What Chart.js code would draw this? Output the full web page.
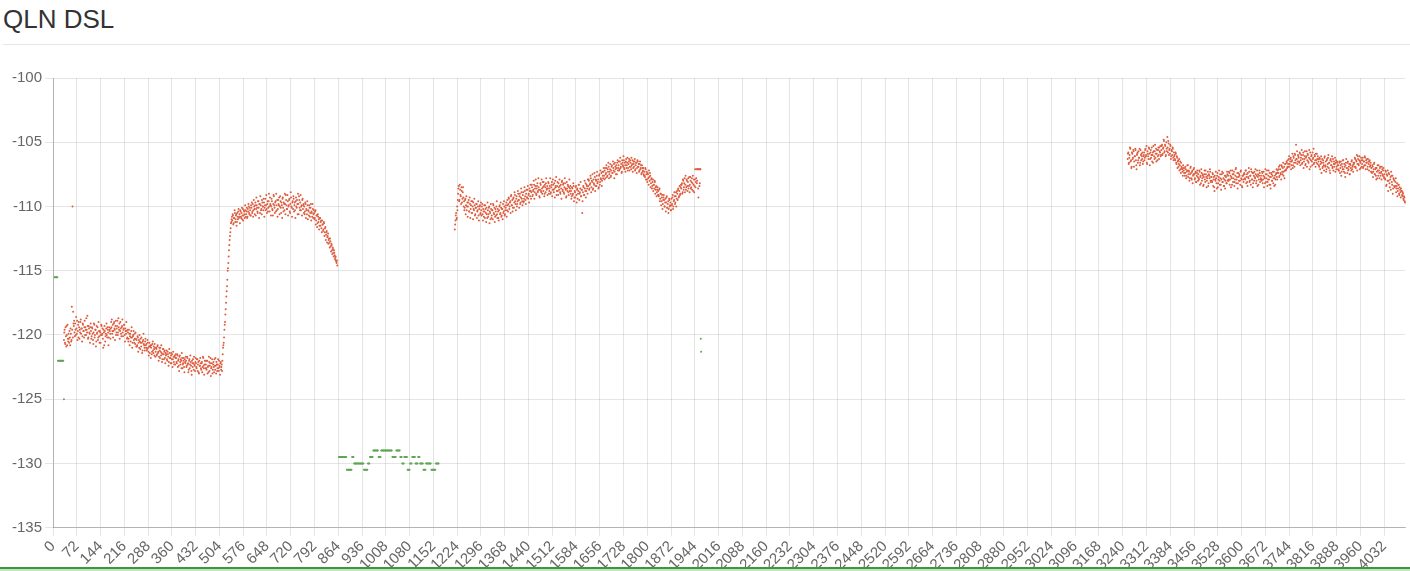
<!DOCTYPE html>
<html><head><meta charset="utf-8">
<script src="https://cdn.jsdelivr.net/npm/chart.js@4.4.0/dist/chart.umd.min.js"></script>
<style>
html,body{margin:0;padding:0;background:#fff;width:1410px;height:571px;overflow:hidden;font-family:"Liberation Sans",Arial,sans-serif;}
#title{position:absolute;left:3px;top:4px;font-size:26px;color:#333;line-height:30px;white-space:nowrap;}
#rule{position:absolute;left:3px;right:0;top:44px;height:1px;background:#e5e5e5;}
#wrap{position:absolute;left:0;top:48px;width:1410px;height:528px;}
#foot{position:absolute;left:0;top:567px;width:1410px;height:2px;background:#3a9a3a;}
#foot2{position:absolute;left:0;top:569px;width:1410px;height:2px;background:#c3e3c3;}
</style></head>
<body>
<div id="title">QLN DSL</div>
<div id="rule"></div>
<div id="wrap"><canvas id="c"></canvas></div>
<div id="foot"></div><div id="foot2"></div>
<script>
// Tone count (category labels 0..4095)
const toneCount = 4096;
const tickEvery = 72;
const yMin = -135, yMax = -100, yStep = 5;
const segStep = 2;

// Red series (QLN), segment 1, odd tones from 33
const redSeg1Start = 33;
const redSeg1 = [
-120.4,-119.6,-120.7,-120.1,-119.3,-120.8,-120.3,-119.9,-120.6,-120.2,-119.5,-120.5,
-117.8,-110.0,-118.2,
-119.3,-119.8,-119.1,-120.0,-119.5,-118.9,-119.7,-120.2,-119.4,-119.6,-119.0,-119.9,-119.5,-120.1,-119.2,-119.7,-119.4,-120.0,-119.6,-118.7,-119.8,-119.3,-120.2,-119.5,-119.9,-119.4,
-119.7,-120.1,-119.5,-120.4,-119.8,-119.2,-120.0,-119.6,-120.5,-119.9,-119.4,-120.2,-119.7,-120.6,-119.8,-120.0,-119.3,-119.9,-120.3,-119.6,-120.8,-119.7,-120.1,-119.5,-120.0,-119.4,-119.8,-120.2,-119.6,-119.9,-119.5,
-119.4,-119.9,-119.2,-119.7,-119.0,-119.6,-119.3,-120.0,-119.5,-118.9,-119.8,-119.4,-119.1,-119.7,-119.5,-120.1,-119.3,-119.8,-119.6,-119.2,-120.0,-119.5,-119.9,-119.7,-120.2,
-119.8,-120.3,-119.9,-120.1,-120.5,-119.7,-120.2,-120.6,-120.0,-120.4,-119.9,-120.7,-120.3,
-120.4,-120.8,-120.2,-120.6,-121.0,-120.5,-120.3,-120.9,-120.6,-121.2,-120.4,-120.7,-121.0,-120.5,-120.8,
-120.7,-121.1,-120.6,-121.3,-120.9,-121.4,-120.8,-121.0,-121.5,-120.7,-121.2,-120.9,-121.6,-121.0,-121.3,
-121.1,-121.5,-120.8,-121.3,-121.7,-121.2,-121.0,-121.6,-121.4,-121.9,-121.1,-121.5,-121.3,-121.8,-121.4,
-121.5,-121.9,-121.3,-121.7,-122.1,-121.4,-121.8,-121.6,-122.2,-121.5,-121.9,-121.7,-122.3,-121.6,-121.8,
-121.8,-122.2,-121.6,-122.0,-122.4,-121.7,-122.1,-121.9,-122.6,-121.8,-122.3,-122.0,-122.5,-121.9,-122.2,
-122.0,-122.4,-121.8,-122.2,-122.7,-121.9,-122.3,-122.1,-122.8,-122.0,-122.5,-122.2,-121.7,-122.4,-122.1,
-122.2,-122.6,-121.9,-122.3,-122.9,-122.0,-122.4,-122.2,-122.7,-122.1,-122.5,-121.8,-122.6,-122.3,-122.0,
-122.3,-122.7,-122.0,-122.5,-122.9,-122.1,-122.4,-121.8,-122.6,-122.2,-123.0,-122.3,-122.5,-121.9,-122.7,-122.4,-122.1,-122.8,-122.3,-122.6,-122.0,-122.5,-122.2,-122.7,-122.3,
-122.0,-121.0,-120.6,-119.6,-119.0,-118.0,-117.0,-116.2,-115.0,-114.4,-113.4,-112.6,-112.0,-111.3,-111.0,
-111.1,-110.7,-111.3,-110.9,-110.5,-111.0,-110.6,-111.2,-110.8,-110.4,-110.9,-110.6,-110.3,-110.8,-110.5,-111.0,-110.2,-110.7,-110.4,-110.9,-110.3,-110.6,-110.1,-110.8,-110.4,-110.0,-110.6,-110.3,-110.7,
-110.1,-110.5,-109.8,-110.3,-110.0,-110.6,-109.7,-110.2,-109.9,-110.4,-109.6,-110.1,-109.8,-110.5,-109.9,-110.2,-109.5,-110.0,-110.3,-109.7,-110.1,-109.4,-109.9,-110.2,-109.8,-110.4,-109.6,-110.0,-109.3,-109.9,
-110.0,-109.6,-110.3,-109.8,-109.2,-110.1,-109.7,-110.4,-109.9,-109.5,-110.2,-109.8,-109.3,-110.0,-109.6,-110.5,-109.9,-109.4,-110.1,-109.7,-110.3,-109.8,-109.1,-109.9,-110.2,-109.6,-110.0,-109.5,-110.4,-109.8,-109.3,-110.1,-109.7,-110.2,-109.4,-109.9,-110.3,-109.6,-110.0,-109.5,-110.6,-109.8,-109.2,-110.1,-109.7,-110.3,-109.9,-109.5,-110.2,-109.8,
-110.0,-110.4,-109.8,-110.2,-110.6,-109.9,-110.3,-110.7,-110.1,-110.5,-109.8,-110.4,-110.8,-110.2,-110.6,
-110.5,-110.9,-110.3,-111.1,-110.7,-111.3,-110.8,-111.0,-111.5,-110.9,-111.2,-111.7,-111.1,
-111.4,-111.8,-111.3,-112.0,-111.6,-112.2,-111.9,-112.4,-112.1,-112.6,
-112.8,-112.5,-113.1,-112.9,-113.4,-113.2,-113.6,-113.4,
-113.8,-114.0,-114.2,-114.4,-114.6
];
// Red series, segment 1, even tones from 34
const redSeg1bStart = 34;
const redSeg1b = [
-119.8,-120.6,-119.4,-120.9,-120.0,-119.2,-120.5,-120.3,-119.7,-120.8,-119.9,-120.4,
-119.6,-120.2,-119.1,
-118.9,-120.1,-119.6,-118.6,-119.9,-120.4,-119.2,-119.0,-120.3,-119.8,-118.8,-119.5,-120.5,-119.1,-119.7,-120.2,-118.9,-119.4,-120.0,-119.6,-118.5,-120.3,-119.3,-119.8,-120.6,-119.1,
-120.3,-119.4,-119.9,-120.7,-119.1,-120.2,-119.6,-120.9,-119.3,-119.8,-120.4,-119.0,-120.1,-119.7,-120.6,-119.2,-120.0,-119.5,-121.0,-119.8,-119.3,-120.5,-119.9,-119.1,-120.2,-119.6,-120.8,-119.4,-119.7,-120.3,-119.0,
-118.8,-119.7,-120.2,-119.1,-119.5,-120.4,-118.9,-119.8,-119.3,-120.0,-118.7,-119.6,-120.3,-119.0,-119.9,-119.4,-118.8,-120.1,-119.5,-119.2,-120.5,-119.7,-119.0,-120.3,-119.6,
-120.5,-119.6,-120.8,-119.9,-120.2,-119.4,-121.0,-120.1,-119.7,-120.6,-120.3,-119.8,-120.9,
-120.9,-120.1,-121.3,-120.4,-120.0,-121.1,-120.6,-120.2,-121.4,-120.5,-119.9,-120.8,-121.2,-120.3,-121.0,
-121.2,-120.4,-121.0,-121.6,-120.6,-120.9,-121.8,-120.8,-121.3,-120.5,-121.4,-121.1,-120.7,-121.7,-121.0,
-121.6,-120.9,-121.4,-122.0,-121.0,-121.8,-121.3,-120.8,-122.1,-121.5,-121.1,-121.9,-121.2,-122.2,-121.6,
-121.2,-122.0,-121.5,-122.4,-121.1,-121.8,-122.2,-121.4,-121.9,-122.5,-121.3,-122.1,-121.7,-122.3,-121.5,
-122.1,-121.5,-122.5,-121.9,-122.8,-121.6,-122.3,-122.0,-121.4,-122.6,-122.2,-121.8,-122.9,-122.1,-121.7,
-122.5,-121.7,-122.3,-122.9,-122.0,-122.6,-121.6,-122.4,-123.1,-122.2,-121.9,-122.7,-122.3,-122.8,-121.8,
-122.5,-121.9,-122.8,-122.1,-123.0,-122.4,-121.8,-122.6,-122.2,-122.9,-121.7,-122.4,-123.1,-122.0,-122.6,
-122.6,-122.0,-123.0,-122.4,-121.7,-122.8,-122.2,-123.2,-122.5,-121.9,-122.7,-122.1,-122.9,-122.4,-121.8,-123.0,-122.3,-122.6,-121.9,-122.8,-122.4,-123.1,-122.1,-122.5,-122.8,
-121.5,-120.8,-120.2,-119.2,-118.4,-117.5,-116.6,-115.7,-114.8,-113.9,-113.0,-112.3,-111.7,-111.2,-110.8,
-110.6,-111.4,-110.9,-110.3,-111.2,-110.7,-111.5,-110.5,-111.0,-110.2,-110.8,-111.3,-110.4,-110.9,-110.1,-110.7,-111.1,-110.3,-110.6,-109.9,-110.8,-110.4,-110.9,-110.2,-109.8,-110.5,-110.1,-110.7,-109.9,
-109.7,-110.4,-110.8,-109.5,-110.2,-109.9,-110.7,-109.3,-110.1,-110.5,-109.6,-110.9,-109.8,-109.2,-110.3,-110.6,-109.7,-110.0,-109.4,-110.8,-109.9,-110.3,-109.1,-110.5,-109.6,-110.1,-109.0,-110.4,-109.8,-110.7,
-109.4,-110.2,-110.7,-109.1,-109.9,-110.5,-109.6,-109.0,-110.3,-110.8,-109.5,-109.9,-110.6,-109.2,-110.1,-109.7,-110.9,-109.3,-110.4,-109.8,-109.0,-110.6,-109.5,-110.2,-109.1,-110.7,-109.9,-109.4,-110.5,-108.9,-110.0,-110.8,-109.6,-109.2,-110.4,-109.7,-110.9,-109.3,-110.1,-109.8,-109.0,-110.6,-109.5,-110.3,-109.1,-110.0,-110.7,-109.4,-109.9,-110.5,
-110.6,-109.7,-110.9,-110.3,-109.6,-111.0,-110.4,-109.9,-110.8,-110.1,-111.1,-110.5,-109.8,-110.9,-110.3,
-111.0,-110.4,-111.4,-110.7,-111.6,-110.6,-111.2,-111.8,-110.9,-111.5,-111.1,-112.0,-111.4,
-111.9,-111.2,-112.3,-111.7,-112.6,-112.0,-112.8,-112.3,-112.9,-112.5,
-113.2,-112.7,-113.5,-113.0,-113.7,-113.3,-113.9,-113.6,
-114.1,-113.9,-114.3,-114.2
];

// Red series, segment 2, odd tones from 1217
const redSeg2Start = 1217;
const redSeg2 = [
-111.8,-111.1,-110.5,-110.9,-110.3,
-109.0,-108.4,-109.5,-108.7,-109.2,-108.5,-109.7,-108.9,-109.3,
-109.6,-110.1,-109.4,-109.9,-110.3,-109.7,-110.0,-109.5,-110.4,-109.8,-110.2,-109.6,-110.5,-110.0,-109.7,-110.3,-109.9,-110.6,-110.1,-109.8,-110.4,-110.0,-110.7,-110.2,-109.9,-110.5,
-110.3,-110.0,-110.6,-110.2,-110.8,-110.4,-109.9,-110.5,-110.1,-110.9,-110.3,-110.6,-110.0,-110.4,-111.0,-110.2,-110.7,-110.3,-109.8,-110.5,-110.1,-110.8,-110.4,-110.0,-110.6,-110.2,-110.9,-110.3,-109.9,-110.5,-110.1,-110.7,-110.2,-109.8,-110.4,-110.0,-110.6,-110.1,-109.7,-110.3,-109.9,
-109.8,-109.4,-110.0,-109.6,-109.2,-109.9,-109.5,-110.1,-109.3,-109.7,-109.1,-109.8,-109.4,-110.0,-109.6,-109.0,-109.5,-109.2,-109.8,-109.3,-108.9,-109.6,-109.1,-109.7,-109.4,-108.8,-109.5,-109.0,-109.3,-108.7,-109.4,-109.0,-108.6,-109.2,-108.8,
-108.9,-108.5,-109.1,-108.7,-108.3,-108.9,-108.4,-109.0,-108.6,-108.2,-108.8,-108.5,-109.2,-108.7,-108.3,-108.9,-108.6,-108.1,-108.8,-108.4,-109.0,-108.5,-108.2,-108.7,-108.4,
-108.6,-108.2,-108.8,-108.4,-109.0,-108.5,-108.1,-108.7,-108.3,-108.9,-108.6,-108.0,-108.5,-109.1,-108.4,-108.8,-108.2,-108.7,-108.4,-109.0,-108.6,-108.1,-108.8,-108.3,-108.9,-108.5,-108.2,-108.7,-109.2,-108.6,-108.3,-108.9,-108.5,-108.8,-108.4,
-108.8,-109.2,-108.6,-109.0,-108.4,-109.3,-108.9,-108.5,-109.1,-108.7,-109.4,-108.8,-108.3,-109.0,-108.6,-109.2,-108.7,-110.5,-108.9,-108.5,-109.1,-108.6,-108.2,-108.8,-108.4,-109.0,
-108.4,-108.0,-108.6,-108.2,-107.8,-108.5,-108.1,-108.7,-107.9,-108.3,-107.7,-108.4,-108.0,-107.6,-108.2,-107.9,-108.5,-107.5,-108.1,-107.8,-107.4,-108.0,-107.6,-107.3,
-107.6,-107.2,-107.8,-107.4,-107.0,-107.6,-107.3,-106.9,-107.5,-107.1,-107.7,-107.2,-106.8,-107.4,-107.0,-106.7,-107.3,-106.9,-107.5,-107.0,-106.6,-107.2,
-106.8,-107.2,-106.5,-107.0,-106.7,-107.3,-106.6,-106.9,-106.4,-107.1,-106.8,-106.5,-107.0,-106.6,-107.2,-106.7,-106.3,-106.9,-106.6,-107.1,-106.8,-106.4,-107.0,-106.7,-106.5,-107.2,-106.8,-106.6,-107.0,-106.5,-106.9,-107.3,-106.7,-107.1,-106.8,-107.4,-107.0,-107.2,-107.5,
-107.3,-107.7,-107.1,-107.5,-107.9,-107.4,-107.8,-107.2,-108.0,-107.6,-108.2,-107.8,-108.4,-107.9,-108.3,-108.6,-108.1,-108.7,-108.4,-108.9,-108.5,
-108.8,-109.2,-108.6,-109.4,-109.0,-109.6,-109.1,-109.8,-109.3,-109.5,-110.0,-109.4,-109.7,-109.2,-110.1,-109.6,-110.2,-109.5,-109.9,-110.3,
-109.4,-109.8,-109.1,-110.0,-109.5,-109.2,-109.7,-108.9,-109.4,-109.0,-108.7,-109.3,-108.8,-109.1,-108.5,
-108.6,-108.2,-108.9,-108.0,-108.5,-107.8,-108.3,-108.7,-107.9,-108.4,-108.1,-108.6,-107.7,-108.3,-108.0,-108.5,-107.8,-108.2,-108.8,-107.9,-108.4,-107.1,-108.1,-107.1,-108.0,-107.1,-109.3,-107.1,-108.2,-107.1
];
// Red series, segment 2, even tones from 1218
const redSeg2bStart = 1218;
const redSeg2b = [
-111.4,-110.7,-111.0,-110.0,-109.5,
-108.6,-109.6,-108.3,-109.1,-109.8,-108.8,-109.4,-108.5,-110.0,
-110.3,-109.5,-110.6,-109.2,-110.0,-110.8,-109.7,-110.4,-109.3,-110.9,-109.9,-110.5,-109.6,-111.0,-110.2,-109.4,-110.7,-110.1,-109.8,-110.9,-110.3,-109.6,-111.1,-110.0,-110.6,-109.7,
-110.7,-109.8,-111.1,-110.4,-109.9,-110.9,-110.2,-111.2,-110.6,-109.7,-110.8,-110.1,-111.3,-110.5,-109.8,-110.9,-110.3,-111.0,-109.9,-110.6,-111.2,-110.2,-110.7,-109.6,-110.9,-110.4,-111.1,-110.0,-110.6,-109.7,-110.8,-110.2,-111.0,-110.5,-109.6,-110.7,-110.3,-109.9,-110.8,-109.5,-110.4,
-109.3,-110.2,-109.7,-110.5,-109.1,-109.9,-110.4,-109.4,-110.1,-108.9,-109.6,-110.3,-109.2,-109.8,-108.8,-109.5,-110.1,-109.0,-109.7,-108.6,-109.4,-109.9,-108.9,-109.6,-108.5,-109.2,-109.8,-108.7,-109.3,-108.4,-109.1,-109.7,-108.8,-108.3,-109.4,
-108.3,-109.2,-108.8,-108.0,-109.4,-108.6,-107.9,-109.1,-108.4,-108.9,-107.8,-108.7,-109.3,-108.2,-108.8,-107.9,-109.0,-108.5,-108.1,-109.2,-108.3,-108.9,-107.8,-108.6,-109.1,
-108.1,-109.0,-108.6,-107.8,-108.9,-108.3,-109.2,-107.9,-108.7,-108.2,-109.3,-108.4,-107.7,-108.8,-108.1,-109.1,-108.5,-107.9,-108.9,-108.3,-109.4,-108.0,-108.7,-108.2,-109.0,-107.8,-108.6,-109.3,-108.1,-108.8,-108.4,-109.1,-107.9,-108.6,-109.0,
-109.4,-108.5,-109.1,-108.2,-109.6,-108.8,-109.3,-108.4,-109.7,-108.6,-109.0,-108.3,-109.5,-108.9,-108.1,-109.2,-108.7,-109.6,-108.4,-109.1,-108.0,-108.8,-109.3,-108.3,-108.6,-107.9,
-107.9,-108.7,-108.3,-107.6,-108.9,-108.0,-107.5,-108.6,-108.2,-107.4,-108.8,-107.9,-108.4,-107.3,-108.1,-108.6,-107.6,-108.3,-107.2,-107.9,-108.4,-107.3,-107.8,-107.0,
-107.9,-107.0,-107.5,-106.8,-107.7,-107.1,-106.6,-107.8,-107.3,-106.7,-107.6,-106.9,-107.4,-106.5,-107.2,-107.8,-106.6,-107.1,-106.8,-107.5,-106.4,-107.0,
-106.5,-107.1,-106.2,-106.9,-107.4,-106.4,-106.8,-106.1,-107.0,-106.6,-107.3,-106.3,-106.8,-106.2,-107.0,-106.5,-107.2,-106.4,-106.9,-106.2,-106.7,-107.3,-106.5,-106.9,-106.3,-107.1,-106.6,-107.4,-106.4,-106.9,-106.7,-107.2,-106.5,-107.0,-107.5,-106.8,-107.3,-107.0,-107.6,
-107.6,-107.0,-107.9,-107.3,-108.1,-107.5,-108.3,-107.7,-107.4,-108.5,-107.9,-108.6,-108.1,-108.8,-108.3,-108.0,-109.0,-108.5,-109.2,-108.7,-109.1,
-109.1,-108.7,-109.6,-109.0,-109.9,-109.3,-110.2,-109.5,-109.1,-110.0,-109.7,-110.4,-109.3,-110.1,-109.8,-110.5,-109.4,-110.0,-109.7,-110.3,
-109.9,-109.3,-110.2,-109.6,-108.9,-109.8,-109.2,-110.0,-108.8,-109.5,-108.6,-109.2,-108.4,-109.0,-108.3,
-108.3,-109.0,-107.9,-108.7,-108.2,-108.9,-107.6,-108.5,-108.0,-108.8,-107.8,-108.4,-108.9,-107.7,-108.6,-108.1,-108.7,-107.6,-108.3,-108.9,-107.9,-108.5,-107.8,-108.2,-107.1,-108.6,-107.1,-108.4,-107.1
];

// Red series, segment 3, odd tones from 3255
const redSeg3Start = 3255;
const redSeg3 = [
-106.3,-105.8,-106.6,-106.0,-105.5,-106.4,-106.9,-105.9,-106.2,-105.7,-106.5,-106.1,-105.6,-106.8,-106.0,-105.8,-106.4,-106.2,-105.5,-106.6,-106.0,-105.9,-106.3,-106.7,-106.1,
-105.8,-106.2,-105.5,-106.0,-106.6,-105.7,-106.1,-105.4,-105.9,-106.3,-105.6,-106.0,-106.5,-105.8,-105.3,-106.1,-105.7,-106.2,-105.5,-105.9,-106.4,-105.6,-106.0,-105.4,-105.8,-106.1,
-105.6,-105.2,-105.9,-105.4,-104.9,-105.7,-105.3,-106.0,-105.5,-104.6,-105.8,-105.1,-105.6,-105.9,-105.3,-106.1,-105.7,-105.4,-106.2,-105.8,
-106.0,-106.4,-105.9,-106.7,-106.2,-106.5,-106.9,-106.3,-106.8,-107.1,-106.6,-107.0,-107.3,-106.8,-107.2,
-107.0,-107.4,-107.1,-107.6,-107.2,-106.8,-107.5,-107.3,-107.8,-107.0,-107.4,-107.9,-107.2,-107.6,-107.1,-107.5,-107.8,-107.3,-108.1,-107.4,-107.7,
-107.5,-107.9,-107.3,-107.7,-108.2,-107.4,-107.8,-107.6,-108.3,-107.5,-107.9,-107.2,-107.7,-108.0,-107.6,-108.4,-107.5,-107.8,-107.3,-108.1,
-107.7,-108.1,-107.5,-107.9,-108.5,-107.6,-108.0,-107.8,-108.6,-107.4,-108.2,-107.7,-108.0,-107.5,-108.3,-107.9,-107.3,-108.1,-107.8,-108.4,-107.6,-108.0,-107.7,-108.2,-107.5,
-107.6,-108.0,-107.4,-107.9,-107.2,-107.7,-108.3,-107.5,-107.8,-107.3,-108.1,-107.6,-107.0,-107.9,-107.4,-108.2,-107.7,-107.5,-108.0,-107.3,-107.8,-108.4,-107.6,-107.9,-107.5,
-107.5,-107.9,-107.2,-107.7,-108.1,-107.4,-107.8,-107.3,-108.0,-107.6,-107.1,-107.9,-107.4,-108.2,-107.6,-107.3,-107.8,-107.5,-108.0,-107.2,-107.7,-108.3,-107.6,-107.4,-107.9,
-107.6,-108.0,-107.4,-107.9,-107.3,-107.7,-108.2,-107.5,-107.8,-107.2,-108.1,-107.6,-107.9,-107.4,-108.3,-107.7,-107.5,-108.0,-107.3,-107.8,-108.4,-107.6,-107.9,-107.4,-107.7,-107.2,
-107.4,-106.9,-107.6,-107.1,-107.5,-106.8,-107.3,-107.0,-107.6,-106.9,-107.2,-106.7,-107.1,-106.6,-106.9,
-106.7,-106.3,-106.9,-106.5,-106.2,-106.8,-106.4,-107.0,-106.1,-106.6,-105.9,-106.4,-105.2,-106.3,-106.7,-106.0,
-106.2,-106.6,-105.9,-106.4,-106.0,-106.7,-106.3,-105.8,-106.5,-106.1,-106.8,-106.2,-105.7,-106.4,-106.0,-106.6,-105.6,-106.3,-106.9,-106.1,-106.5,-105.8,-106.2,-106.7,-106.0,-106.4,-105.9,-106.6,-106.3,-106.1,
-106.5,-106.9,-106.3,-106.7,-106.1,-106.6,-107.0,-106.4,-106.8,-106.2,-106.9,-106.5,-107.1,-106.3,-106.7,-106.0,-106.6,-107.2,-106.4,-106.8,-106.5,-107.0,-106.3,-106.7,-106.9,-106.2,-106.6,-107.1,-106.5,-106.8,
-106.8,-107.2,-106.6,-107.0,-106.5,-107.3,-106.9,-106.4,-107.1,-106.7,-107.4,-106.8,-106.3,-107.0,-106.6,-107.2,-106.9,-107.5,-106.7,-107.0,-106.5,-107.1,-106.8,-106.6,
-106.6,-106.2,-106.9,-106.4,-106.0,-106.7,-106.3,-106.8,-106.1,-106.5,-107.0,-106.4,-106.7,-106.2,-106.9,-106.5,-106.1,-106.8,-106.4,-106.6,-107.1,-106.3,-106.7,-106.5,-106.9,-106.6,
-107.0,-107.4,-106.9,-107.3,-106.7,-107.5,-107.1,-107.6,-107.0,-107.8,-107.2,-106.8,-107.4,-107.0,-107.6,-107.3,-106.9,-107.5,-107.2,-107.7,
-107.5,-107.9,-107.3,-108.3,-107.6,-107.2,-108.0,-107.5,-108.5,-107.7,-107.3,-108.1,-107.6,-108.6,-107.9,
-108.0,-108.4,-107.8,-108.6,-108.2,-108.8,-108.3,-109.0,-108.5,-108.9,-108.6,
-108.8,-109.2,-109.0,-109.5,-109.3,-109.7
];
// Red series, segment 3, even tones from 3256
const redSeg3bStart = 3256;
const redSeg3b = [
-105.9,-106.7,-106.2,-105.4,-106.5,-107.0,-105.8,-106.3,-105.6,-106.9,-106.1,-105.5,-106.4,-107.1,-105.9,-106.6,-105.7,-106.2,-106.8,-105.6,-106.4,-106.1,-105.8,-106.5,-106.0,
-106.4,-105.6,-106.1,-105.3,-106.7,-105.9,-106.3,-105.5,-106.8,-105.8,-106.2,-105.4,-106.0,-106.6,-105.7,-106.3,-105.2,-105.9,-106.5,-105.6,-106.1,-105.4,-106.3,-105.7,-105.3,-106.0,
-105.3,-106.0,-105.5,-104.8,-105.8,-105.2,-106.1,-105.0,-105.7,-105.4,-104.9,-106.0,-105.5,-105.2,-106.3,-105.6,-106.0,-105.5,-106.4,-106.1,
-106.3,-105.8,-106.6,-106.1,-107.0,-106.4,-106.7,-107.2,-106.5,-107.4,-106.9,-107.1,-107.6,-107.0,-107.4,
-107.6,-106.9,-107.8,-107.3,-106.8,-107.7,-107.2,-108.0,-107.5,-106.9,-107.8,-107.3,-108.2,-107.5,-107.0,-107.9,-107.4,-108.1,-107.6,-107.2,-108.0,
-107.8,-107.2,-108.3,-107.6,-107.1,-108.0,-107.5,-108.4,-107.7,-107.2,-108.1,-107.5,-108.5,-107.8,-107.3,-108.2,-107.6,-107.1,-108.0,-107.7,
-108.0,-107.4,-108.4,-107.7,-108.8,-107.9,-107.3,-108.2,-107.6,-108.5,-107.9,-107.2,-108.3,-107.8,-108.7,-107.5,-108.1,-107.4,-108.4,-107.9,-108.6,-107.6,-108.2,-107.3,-108.0,
-107.9,-107.3,-108.3,-107.6,-108.5,-107.8,-107.2,-108.1,-107.5,-108.4,-107.9,-107.1,-108.2,-107.7,-108.6,-107.4,-108.0,-107.6,-108.3,-107.2,-107.9,-108.5,-107.6,-108.1,-107.4,
-107.8,-107.2,-108.2,-107.5,-108.4,-107.7,-107.0,-108.1,-107.6,-108.3,-107.3,-107.9,-108.5,-107.4,-108.0,-107.7,-107.1,-108.2,-107.6,-108.4,-107.5,-107.9,-107.2,-108.1,-107.8,
-107.9,-107.3,-108.2,-107.6,-108.5,-107.8,-107.1,-108.1,-107.5,-108.4,-107.9,-107.2,-108.3,-107.7,-108.6,-107.4,-108.0,-107.6,-108.2,-107.3,-107.8,-108.3,-107.5,-107.1,-107.9,-107.4,
-107.1,-107.7,-106.8,-107.4,-107.9,-106.9,-107.5,-106.6,-107.3,-107.8,-106.7,-107.2,-106.5,-107.0,-106.4,
-106.9,-106.1,-106.7,-106.3,-107.1,-106.5,-105.9,-106.8,-106.2,-106.9,-106.0,-106.6,-106.3,-105.7,-106.5,-106.1,
-106.5,-105.8,-106.8,-106.2,-105.6,-106.6,-106.0,-107.0,-106.3,-105.7,-106.7,-106.1,-106.9,-105.9,-106.5,-106.2,-107.1,-105.8,-106.4,-106.0,-106.8,-106.3,-105.5,-106.6,-106.1,-106.9,-106.4,-105.9,-106.7,-106.3,
-106.8,-106.2,-107.1,-106.5,-107.4,-106.3,-106.9,-106.6,-107.2,-106.1,-106.8,-107.3,-106.4,-106.9,-106.2,-107.0,-106.6,-107.4,-106.3,-106.8,-106.1,-106.9,-107.2,-106.5,-106.7,-107.3,-106.4,-106.9,-106.6,-107.1,
-107.2,-106.5,-107.4,-106.8,-107.6,-106.7,-107.1,-106.4,-107.3,-106.9,-107.7,-106.6,-107.0,-107.4,-106.5,-107.1,-106.7,-107.5,-106.8,-107.2,-106.4,-106.9,-107.3,-106.7,
-106.9,-106.3,-107.0,-106.5,-107.2,-106.1,-106.7,-106.4,-107.1,-106.6,-106.2,-106.9,-106.4,-107.0,-106.5,-106.8,-106.2,-107.1,-106.6,-106.3,-106.9,-106.5,-107.2,-106.4,-106.8,-107.3,
-107.3,-106.8,-107.7,-107.1,-106.6,-107.5,-107.0,-107.9,-107.3,-106.8,-107.6,-107.2,-107.8,-106.9,-107.4,-107.9,-107.1,-107.6,-107.0,-107.8,
-107.8,-107.2,-108.4,-107.5,-108.0,-108.8,-107.4,-108.2,-107.9,-108.7,-107.6,-108.3,-109.0,-107.8,-108.4,
-108.5,-108.1,-108.9,-108.4,-109.2,-108.6,-108.3,-109.1,-108.7,-109.3,-108.8,
-109.1,-108.9,-109.4,-109.2,-109.6
];

// Green series, early tones from 5, every 2nd tone
const greenSeg1Start = 5;
const greenSeg1 = [-115.5,-115.5,-115.5,-115.5,-115.5,-122,-122,-122,-122,-122,-122,-122,-122,-122,-125];

// Green series, middle block from tone 866, every 2nd tone
const greenSeg2Start = 866;
const greenSeg2 = [
-129.5,-129.5,-129.5,-129.5,-129.5,-129.5,-129.5,-129.5,-129.5,-129.5,-129.5,-129.5,
-130.5,-130.5,-130.5,-130.5,-130.5,-130.5,-130.5,-130.5,
-129.5,-129.5,-129.5,
-130,-130,-130,-130,-130,-130,-130,-130,-130,-130,-130,-130,-130,-130,-130,
-130.5,-130.5,-130.5,-130.5,-130.5,-130.5,
-130,-130,-130,
-129.5,-129.5,-129.5,-129.5,-129.5,
-129,-129,-129,-129,-129,-129,-129,-129,
-129.5,-129.5,-129.5,-129.5,
-129,-129,-129,-129,-129,-129,-129,-129,-129,-129,-129,-129,-129,-129,-129,-129,-129,
-129.5,-129.5,-129.5,-129.5,-129.5,-129.5,
-129,-129,-129,-129,-129,-129,
-129.5,-129.5,-129.5,
-130,-130,-130,
-129.5,-129.5,-129.5,-129.5,-129.5,
-130.5,-130.5,-130.5,-130.5,
-130,-130,-130,
-129.5,-129.5,-129.5,-129.5,-129.5,
-130,-130,-130,-130,
-129.5,-129.5,-129.5,
-130,-130,-130,-130,-130,
-130.5,-130.5,-130.5,-130.5,
-130,-130,-130,-130,-130,-130,-130,-130,
-130.5,-130.5,-130.5,-130.5,-130.5,-130.5,-130.5,
-130,-130,-130,-130,-130
];

// Green series, late pair at tone 1962
const greenSeg3Start = 1962;
const greenSeg3 = [-120.3,-121.3];

// ---- build library data ----
const labels = [];
for (let i = 0; i < toneCount; i++) labels.push(String(i));
function place(target, start, values, step) {
  values.forEach((v, k) => { target[start + k * step] = v; });
}
const redData = new Array(toneCount).fill(null);
place(redData, redSeg1Start, redSeg1, segStep);
place(redData, redSeg1bStart, redSeg1b, segStep);
place(redData, redSeg2Start, redSeg2, segStep);
place(redData, redSeg2bStart, redSeg2b, segStep);
place(redData, redSeg3Start, redSeg3, segStep);
place(redData, redSeg3bStart, redSeg3b, segStep);
const greenData = new Array(toneCount).fill(null);
place(greenData, greenSeg1Start, greenSeg1, segStep);
place(greenData, greenSeg2Start, greenSeg2, segStep);
place(greenData, greenSeg3Start, greenSeg3, 1);

const FONT = "'Liberation Sans', Arial, sans-serif";
new Chart(document.getElementById('c'), {
  type: 'line',
  data: {
    labels: labels,
    datasets: [
      { label: 'QLN', data: redData, showLine: false, pointRadius: 1, pointHoverRadius: 1,
        pointBorderWidth: 0, pointBackgroundColor: 'rgb(222,92,62)', borderColor: 'rgb(222,92,62)' },
      { label: 'QLN 2', data: greenData, showLine: false, pointRadius: 1, pointHoverRadius: 1,
        pointBorderWidth: 0, pointBackgroundColor: 'rgb(96,164,86)', borderColor: 'rgb(96,164,86)' }
    ]
  },
  options: {
    responsive: true, maintainAspectRatio: false, animation: false,
    events: [],
    layout: { padding: { top: 30, left: 9, right: 5, bottom: 0 } },
    plugins: { legend: { display: false }, tooltip: { enabled: false } },
    scales: {
      x: {
        type: 'category',
        grid: { color: 'rgba(0,0,0,0.1)', tickLength: 8 },
        border: { color: 'rgba(0,0,0,0.22)' },
        ticks: {
          autoSkip: false, minRotation: 45, maxRotation: 45,
          color: '#666', font: { family: FONT, size: 15 }, padding: 2,
          callback: function (v, i) { return i % tickEvery === 0 ? labels[i] : null; }
        }
      },
      y: {
        min: yMin, max: yMax,
        grid: { color: 'rgba(0,0,0,0.1)', tickLength: 8 },
        border: { color: 'rgba(0,0,0,0.22)' },
        ticks: { stepSize: yStep, color: '#666', font: { family: FONT, size: 15 }, padding: 3 }
      }
    }
  }
});
</script>
</body></html>
